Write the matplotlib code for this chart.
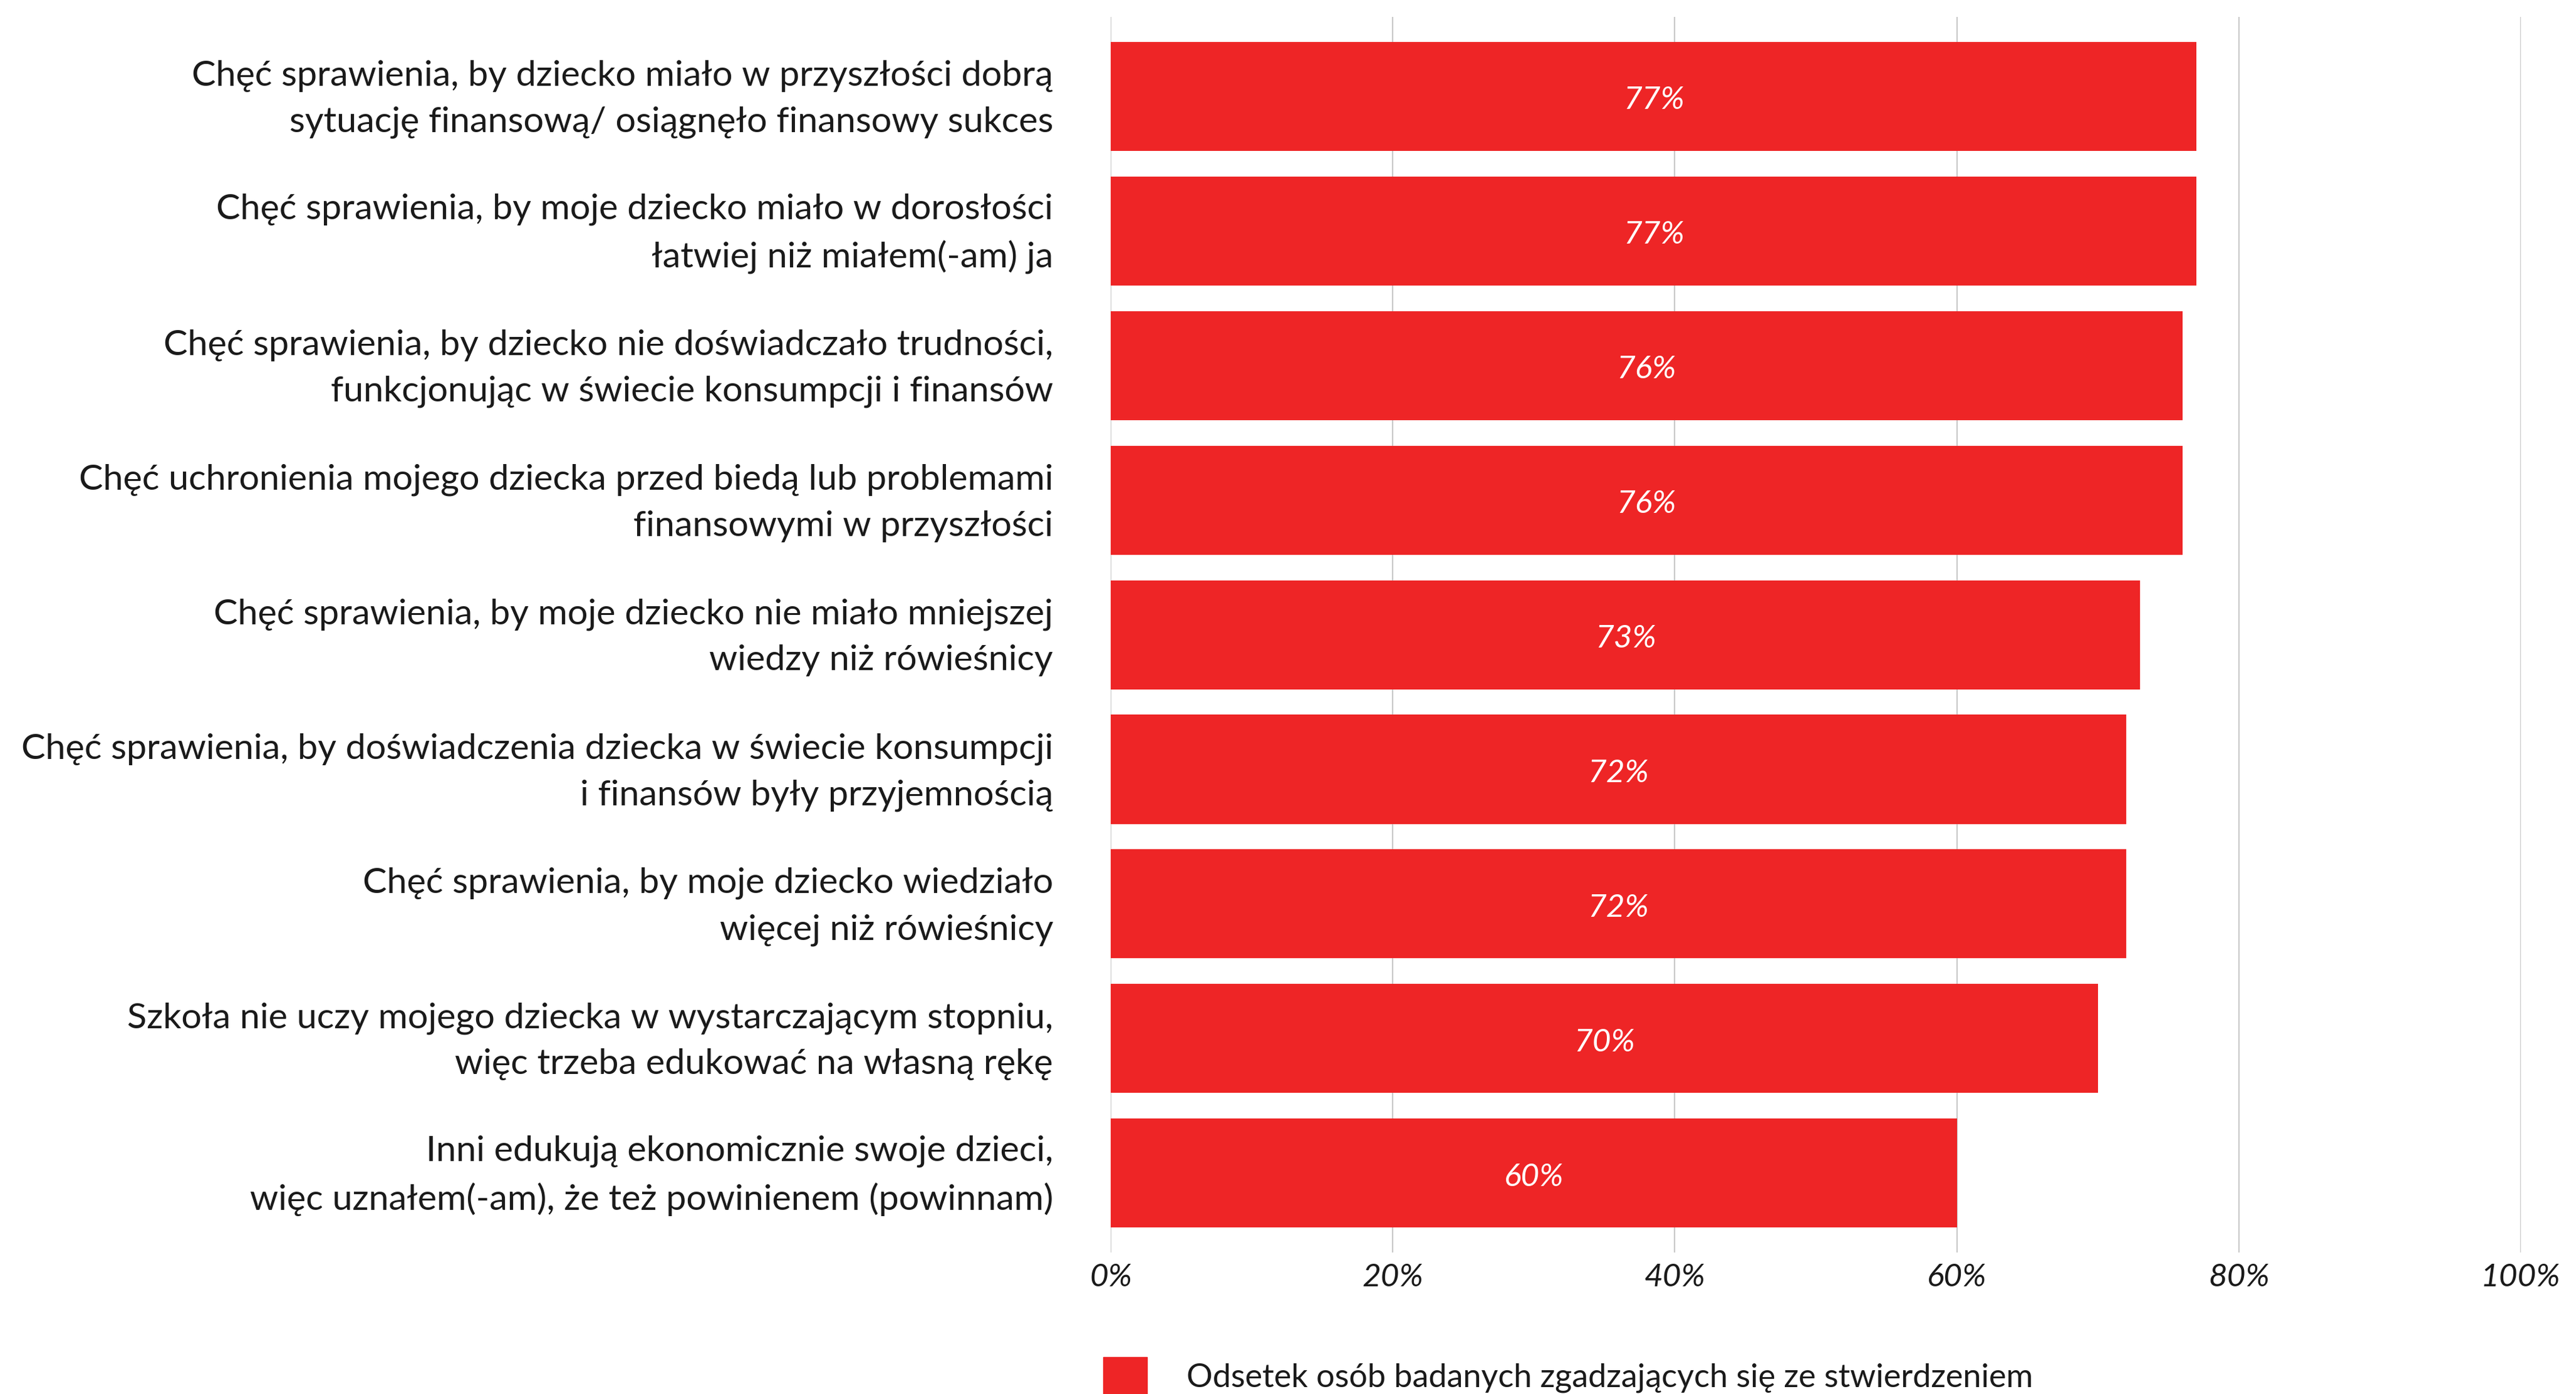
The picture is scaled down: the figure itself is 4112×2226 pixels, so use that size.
import matplotlib
matplotlib.use("Agg")
import matplotlib.pyplot as plt
from matplotlib.patches import Patch

# Odpowiedzi i odsetki
labels = [
    "Chęć sprawienia, by dziecko miało w przyszłości dobrą\nsytuację finansową/ osiągnęło finansowy sukces",
    "Chęć sprawienia, by moje dziecko miało w dorosłości\nłatwiej niż miałem(-am) ja",
    "Chęć sprawienia, by dziecko nie doświadczało trudności,\nfunkcjonując w świecie konsumpcji i finansów",
    "Chęć uchronienia mojego dziecka przed biedą lub problemami\nfinansowymi w przyszłości",
    "Chęć sprawienia, by moje dziecko nie miało mniejszej\nwiedzy niż rówieśnicy",
    "Chęć sprawienia, by doświadczenia dziecka w świecie konsumpcji\ni finansów były przyjemnością",
    "Chęć sprawienia, by moje dziecko wiedziało\nwięcej niż rówieśnicy",
    "Szkoła nie uczy mojego dziecka w wystarczającym stopniu,\nwięc trzeba edukować na własną rękę",
    "Inni edukują ekonomicznie swoje dzieci,\nwięc uznałem(-am), że też powinienem (powinnam)",
]
values = [77, 77, 76, 76, 73, 72, 72, 70, 60]
xticks = [0, 20, 40, 60, 80, 100]
legend_label = "Odsetek osób badanych zgadzających się ze stwierdzeniem"

RED = "#ee2526"
FONT = "Lato"

plt.rcParams["font.family"] = [FONT, "DejaVu Sans"]

fig = plt.figure(figsize=(41.12, 22.26), dpi=100)
ax = fig.add_axes([0.4312, 0.1015, 0.5474, 0.8863])

ypos = list(range(len(values)))
ax.barh(ypos, values, height=0.81, color=RED, zorder=2)

for y, v in zip(ypos, values):
    ax.text(v / 2, y + 0.03, f"{v}%", ha="center", va="center", color="white",
            fontsize=37, style="italic", zorder=3)

# opisy po lewej stronie słupków
lab_tr = ax.get_yaxis_transform()
for y, lab in zip(ypos, labels):
    ax.text(-0.0409, y + 0.02, lab, transform=lab_tr, ha="right", va="center",
            fontsize=41.4, color="#1a1a1a", linespacing=1.55)

ax.set_xlim(0, 100)
ax.set_ylim(len(values) - 1 + 0.59, -0.59)
ax.set_xticks(xticks)
ax.set_xticklabels([f"{t}%" for t in xticks], fontsize=37, style="italic", color="#1a1a1a")
ax.set_yticks([])

ax.tick_params(axis="x", length=0, pad=12)
ax.grid(axis="x", color="#c8c8c8", linewidth=1.5, zorder=0)
for s in ax.spines.values():
    s.set_visible(False)

fig.legend(handles=[Patch(color=RED)], labels=[legend_label], loc="upper left",
           bbox_to_anchor=(1735 / 4112, 0.038), frameon=False, fontsize=37.5,
           handlelength=1.35, handleheight=1.35, handletextpad=1.2, borderpad=0,
           labelcolor="#1a1a1a")

fig.savefig("out.png", dpi=100)
